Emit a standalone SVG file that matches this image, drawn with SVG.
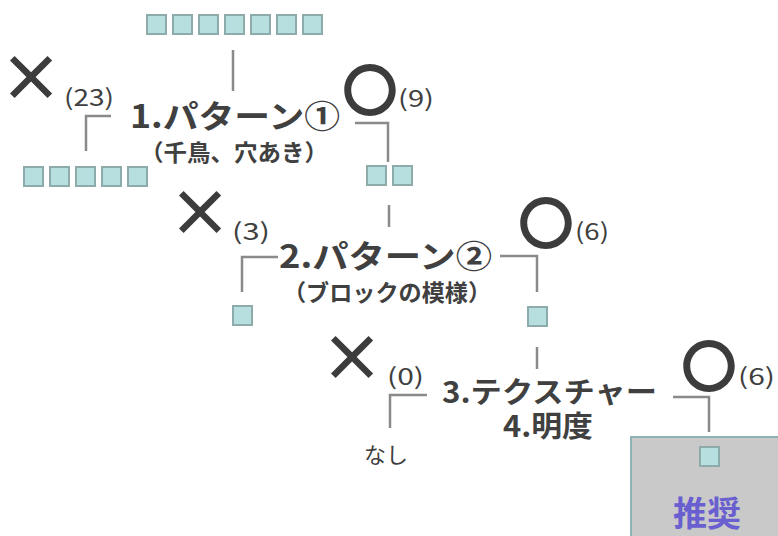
<svg xmlns="http://www.w3.org/2000/svg" width="778" height="536" viewBox="0 0 778 536">
<style>
.sq{fill:#b8dfe0;stroke:#8eabab;stroke-width:2}
.ln{fill:none;stroke:#8a8a8a;stroke-width:2.5}
.t{font-family:"Noto Sans CJK JP","Noto Sans",sans-serif;fill:#404040}
.b{font-weight:bold}
.mk{font-family:"Noto Sans CJK JP","Noto Sans",sans-serif;font-weight:bold;fill:#3c3c3c;text-anchor:middle}
</style>
<rect width="778" height="536" fill="#ffffff"/>
<g id="connectors">
<line class="ln" x1="233" y1="50" x2="233" y2="91"/>
<polyline class="ln" points="111,116 86,116 86,151"/>
<polyline class="ln" points="355,123 388,123 388,162"/>
<line class="ln" x1="389" y1="205" x2="389" y2="227"/>
<polyline class="ln" points="278,257 242,257 242,292"/>
<polyline class="ln" points="500,256 537,256 537,292"/>
<line class="ln" x1="537" y1="347" x2="537" y2="369"/>
<polyline class="ln" points="427,395 390,395 390,428"/>
<polyline class="ln" points="673,397 709,397 709,432"/>
</g>
<g id="start">
<rect class="sq" x="147" y="15" width="19" height="19"/>
<rect class="sq" x="173" y="15" width="19" height="19"/>
<rect class="sq" x="199" y="15" width="19" height="19"/>
<rect class="sq" x="225" y="15" width="19" height="19"/>
<rect class="sq" x="251" y="15" width="19" height="19"/>
<rect class="sq" x="277" y="15" width="19" height="19"/>
<rect class="sq" x="303" y="15" width="19" height="19"/>
</g>
<g id="step1">
<text class="t b" x="130" y="128" font-size="32" textLength="210" lengthAdjust="spacingAndGlyphs">1.パターン①</text>
<text class="t b" x="234" y="161" font-size="23" text-anchor="middle" textLength="188" lengthAdjust="spacingAndGlyphs">（千鳥、穴あき）</text>
</g>
<g id="reject1">
<text class="mk" x="31" y="101" font-size="64">×</text>
<text class="t" x="64" y="106" font-size="23" textLength="50" lengthAdjust="spacingAndGlyphs">(23)</text>
<rect class="sq" x="24" y="167" width="19" height="19"/>
<rect class="sq" x="50" y="167" width="19" height="19"/>
<rect class="sq" x="76" y="167" width="19" height="19"/>
<rect class="sq" x="102" y="167" width="19" height="19"/>
<rect class="sq" x="128" y="167" width="19" height="19"/>
</g>
<g id="pass1">
<text class="mk" x="370" y="111" font-size="56">〇</text>
<text class="t" x="398" y="107" font-size="23" textLength="36" lengthAdjust="spacingAndGlyphs">(9)</text>
<rect class="sq" x="367" y="166" width="19" height="19"/>
<rect class="sq" x="393" y="166" width="19" height="19"/>
</g>
<g id="step2">
<text class="t b" x="279" y="268" font-size="32" textLength="213" lengthAdjust="spacingAndGlyphs">2.パターン②</text>
<text class="t b" x="387" y="301" font-size="23" text-anchor="middle" textLength="208" lengthAdjust="spacingAndGlyphs">（ブロックの模様）</text>
</g>
<g id="reject2">
<text class="mk" x="200" y="236" font-size="64">×</text>
<text class="t" x="232" y="240" font-size="23" textLength="38" lengthAdjust="spacingAndGlyphs">(3)</text>
<rect class="sq" x="233" y="306" width="19" height="19"/>
</g>
<g id="pass2">
<text class="mk" x="546" y="244" font-size="56">〇</text>
<text class="t" x="575" y="240" font-size="23" textLength="34" lengthAdjust="spacingAndGlyphs">(6)</text>
<rect class="sq" x="528" y="307" width="19" height="19"/>
</g>
<g id="step3">
<text class="t b" font-size="29"><tspan x="442" y="403" textLength="215" lengthAdjust="spacingAndGlyphs">3.テクスチャー</tspan><tspan x="503" y="437" textLength="90" lengthAdjust="spacingAndGlyphs">4.明度</tspan></text>
</g>
<g id="reject3">
<text class="mk" x="352" y="381" font-size="64">×</text>
<text class="t" x="387" y="385" font-size="23" textLength="37" lengthAdjust="spacingAndGlyphs">(0)</text>
<text class="t" x="386" y="463" font-size="22" text-anchor="middle">なし</text>
</g>
<g id="pass3">
<text class="mk" x="709" y="387" font-size="56">〇</text>
<text class="t" x="738" y="385" font-size="23" textLength="37" lengthAdjust="spacingAndGlyphs">(6)</text>
</g>
<g id="recommend">
<rect x="631" y="437" width="160" height="110" fill="#c9c9c9" stroke="#8fb3b3" stroke-width="2"/>
<rect class="sq" x="700" y="447" width="19" height="19"/>
<text x="707" y="526" font-family="Noto Sans CJK JP,sans-serif" font-weight="bold" font-size="34" fill="#6a5fd0" text-anchor="middle">推奨</text>
</g>
</svg>
